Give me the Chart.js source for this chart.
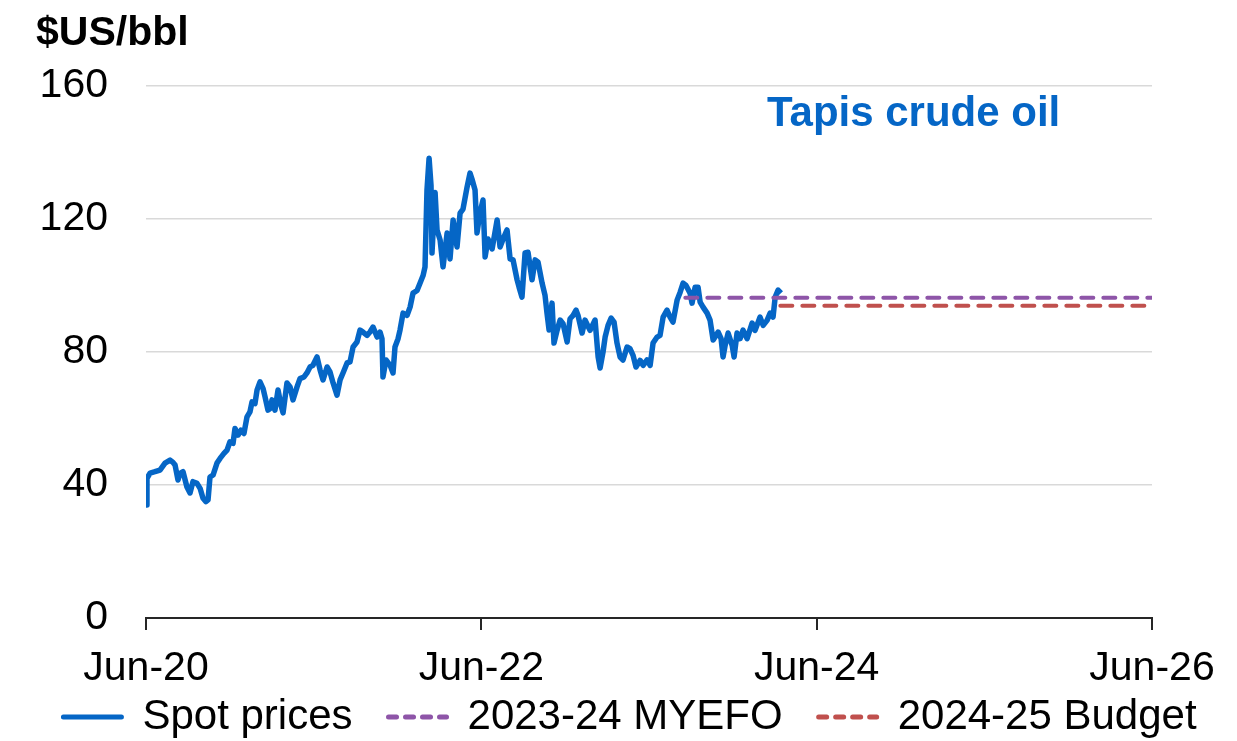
<!DOCTYPE html>
<html>
<head>
<meta charset="utf-8">
<script src="https://cdn.jsdelivr.net/npm/chart.js@4/dist/chart.umd.min.js"></script>
<style>
  html, body { margin: 0; padding: 0; background: #ffffff; }
  #wrap { width: 1237px; height: 741px; position: relative; }
</style>
</head>
<body>
<div id="wrap"><canvas id="tapis-chart"></canvas></div>
<script>
// months after 1 Jun 2020
const spotMonths = [
  0.00, 0.07, 0.29, 0.64, 1.00, 1.36, 1.72, 1.93, 2.08, 2.29, 2.43, 2.65, 2.93, 3.15, 3.36, 3.65, 3.87, 4.08, 4.29, 4.44,
  4.58, 4.80, 5.08, 5.30, 5.58, 5.80, 6.01, 6.23, 6.37, 6.59, 6.80, 7.01, 7.23, 7.44, 7.59, 7.80, 7.95, 8.16, 8.38, 8.52,
  8.73, 8.88, 9.02, 9.23, 9.45, 9.66, 9.81, 10.09, 10.31, 10.52, 10.81, 11.02, 11.31, 11.52, 11.74, 11.95, 12.24, 12.46, 12.67, 12.96,
  13.17, 13.39, 13.67, 13.89, 14.10, 14.39, 14.60, 14.82, 15.10, 15.32, 15.53, 15.82, 16.03, 16.25, 16.54, 16.75, 16.89, 16.96, 17.18, 17.47,
  17.68, 17.82, 18.04, 18.18, 18.40, 18.68, 18.90, 19.11, 19.40, 19.61, 19.83, 19.97, 20.11, 20.26, 20.40, 20.47, 20.69, 20.83, 21.05, 21.26,
  21.55, 21.76, 21.98, 22.26, 22.48, 22.69, 22.98, 23.19, 23.33, 23.55, 23.69, 23.91, 24.12, 24.27, 24.48, 24.77, 25.13, 25.34, 25.56, 25.84,
  26.06, 26.27, 26.56, 26.70, 26.91, 27.13, 27.34, 27.63, 27.85, 28.06, 28.35, 28.56, 28.70, 28.85, 29.06, 29.20, 29.42, 29.64, 29.85, 30.14,
  30.35, 30.57, 30.78, 30.92, 31.21, 31.42, 31.78, 32.14, 32.36, 32.50, 32.71, 32.86, 33.07, 33.29, 33.50, 33.71, 33.93, 34.14, 34.43, 34.64,
  34.86, 35.07, 35.36, 35.58, 35.86, 36.08, 36.29, 36.58, 36.79, 37.01, 37.29, 37.51, 37.72, 38.01, 38.23, 38.44, 38.65, 38.94, 39.08, 39.30,
  39.51, 39.66, 39.87, 40.16, 40.37, 40.59, 40.95, 41.16, 41.30, 41.45, 41.66, 41.95, 42.09, 42.30, 42.52, 42.73, 43.02, 43.38, 43.59, 43.95,
  44.17, 44.45, 44.67, 44.88, 45.03, 45.24, 45.45
];
const spotPrices = [
  34, 42, 43.6, 44, 44.5, 46.6, 47.5, 46.8, 46, 41.5, 43.5, 44, 39.4, 37.6, 41, 40.5, 39, 36, 35, 35.5,
  42.4, 43, 46.6, 48, 49.5, 50.5, 53, 52.5, 57, 55, 56.5, 55.5, 60.5, 62, 65, 64.5, 68.6, 71, 69, 66.5,
  62.5, 63, 65.6, 62.5, 68.6, 64, 61.7, 70.7, 69.5, 65.6, 69.5, 72, 72.5, 73.7, 75.5, 76, 78.5, 74.6, 71.6, 75.5,
  74, 70.7, 67, 71.6, 73.7, 76.7, 77, 81.5, 83, 86.6, 86, 85, 86, 87.5, 84.5, 86, 84, 72.5, 77.6, 76,
  73.7, 81.5, 84, 86.6, 91.7, 91, 93.5, 97.7, 98.5, 100.7, 103, 105.6, 128.7, 138.3, 130, 109.8, 128, 116.7, 113.7, 105.6,
  115.8, 108, 119.7, 111.6, 121.8, 123, 129.6, 133.8, 132, 128.7, 115.8, 122, 125.7, 108.6, 114, 111, 119.7, 111.6, 114, 116.7,
  108, 107.7, 101.7, 99.5, 96.5, 109.8, 110, 101.7, 107.7, 107, 100.7, 97, 91.7, 86.6, 94.7, 82.7, 86.5, 89.6, 88.5, 83,
  90, 91, 92.6, 91, 85.7, 89.6, 86.5, 89.6, 78.5, 75.2, 80, 84.5, 88, 90.2, 89, 82.7, 78.5, 77.6, 81.5, 81,
  79, 75.5, 77.5, 76, 77.6, 76, 82.7, 84.5, 85, 90.5, 92.6, 90.5, 89, 95.6, 98, 100.7, 100, 97.7, 94.7, 99.5,
  99.5, 95, 93.5, 91.7, 89.6, 83.6, 86, 84, 78.5, 82, 85.7, 82, 78.5, 85.7, 84, 86.6, 84, 88.7, 86.5, 90.5,
  88, 89.5, 91.7, 90.5, 96.5, 98.6, 97.7
];

const myefoMonths = [38.6, 72];
const myefoPrices = [96.3, 96.3];
const budgetMonths = [45.4, 72];
const budgetPrices = [93.9, 93.9];

const xTickLabels = ['Jun-20', 'Jun-22', 'Jun-24', 'Jun-26'];
const yTicks = [0, 40, 80, 120, 160];

const blue = '#0566C6';
const purple = '#8E55A8';
const red = '#C0504D';
const font = "'Liberation Sans', Arial, sans-serif";

function toPoints(xs, ys) {
    return xs.map((x, i) => ({ x, y: ys[i] }));
}

const chartTexts = {
    id: 'chartTexts',
    afterDraw(chart) {
        const { ctx } = chart;
        ctx.save();
        ctx.textBaseline = 'alphabetic';
        ctx.textAlign = 'left';
        ctx.font = `bold 41px ${font}`;
        ctx.fillStyle = '#000000';
        ctx.fillText('$US/bbl', 36, 45);
        ctx.font = `bold 42px ${font}`;
        ctx.fillStyle = blue;
        ctx.fillText('Tapis crude oil', 767, 126);
        ctx.restore();
    },
};

// the x labels hang below the (deliberately short) axis box; don't clip them
const keepXLabels = {
    id: 'keepXLabels',
    afterLayout(chart) {
        chart.scales.x.bottom = chart.height;
    },
};

Chart.defaults.font.family = font;
Chart.defaults.color = '#000000';

new Chart(document.getElementById('tapis-chart'), {
    type: 'line',
    data: {
        datasets: [
            {
                label: 'Spot prices',
                data: toPoints(spotMonths, spotPrices),
                borderColor: blue,
                backgroundColor: blue,
                borderWidth: 5.5,
                borderJoinStyle: 'round',
                pointRadius: 0,
                tension: 0,
                order: 3,
            },
            {
                label: '2023-24 MYEFO',
                data: toPoints(myefoMonths, myefoPrices),
                borderColor: purple,
                backgroundColor: purple,
                borderWidth: 4,
                borderDash: [12, 10],
                borderCapStyle: 'round',
                pointRadius: 0,
                order: 1,
            },
            {
                label: '2024-25 Budget',
                data: toPoints(budgetMonths, budgetPrices),
                borderColor: red,
                backgroundColor: red,
                borderWidth: 4,
                borderDash: [12, 10],
                borderCapStyle: 'round',
                pointRadius: 0,
                order: 2,
            },
        ],
    },
    options: {
        responsive: true,
        maintainAspectRatio: false,
        animation: false,
        layout: { padding: { left: 23, top: 86, right: 0, bottom: -7 } },
        plugins: {
            legend: {
                position: 'bottom',
                labels: {
                    usePointStyle: true,
                    pointStyle: 'line',
                    pointStyleWidth: 58,
                    padding: 36,
                    color: '#000000',
                    font: { size: 42 },
                    generateLabels: (chart) => chart.data.datasets.map((ds, i) => ({
                        text: ds.label,
                        datasetIndex: i,
                        fillStyle: ds.borderColor,
                        strokeStyle: ds.borderColor,
                        lineWidth: 5,
                        lineCap: 'round',
                        lineDash: ds.borderDash ? [8, 9] : [],
                        pointStyle: 'line',
                        hidden: false,
                    })),
                },
            },
            tooltip: { enabled: false },
            title: { display: false },
        },
        scales: {
            x: {
                type: 'linear',
                min: 0,
                max: 72,
                afterFit: (scale) => {
                    scale.height = 42;
                    scale.paddingRight = 85;
                },
                afterBuildTicks: (scale) => {
                    scale.ticks = [0, 24, 48, 72].map((v) => ({ value: v }));
                },
                ticks: {
                    autoSkip: false,
                    maxRotation: 0,
                    padding: 14,
                    color: '#000000',
                    font: { size: 41 },
                    callback: (v, i) => xTickLabels[i],
                },
                grid: {
                    drawOnChartArea: false,
                    drawTicks: true,
                    tickLength: 12,
                    color: '#262626',
                    lineWidth: 2,
                },
                border: { display: true, color: '#262626', width: 2 },
            },
            y: {
                min: 0,
                max: 160,
                afterFit: (scale) => {
                    scale.width = 123;
                },
                afterBuildTicks: (scale) => {
                    scale.ticks = yTicks.map((v) => ({ value: v }));
                },
                ticks: {
                    padding: 38,
                    color: '#000000',
                    font: { size: 41 },
                },
                grid: {
                    drawTicks: false,
                    color: '#D9D9D9',
                    lineWidth: 1.5,
                },
                border: { display: false },
            },
        },
    },
    plugins: [chartTexts, keepXLabels],
});
</script>
</body>
</html>
